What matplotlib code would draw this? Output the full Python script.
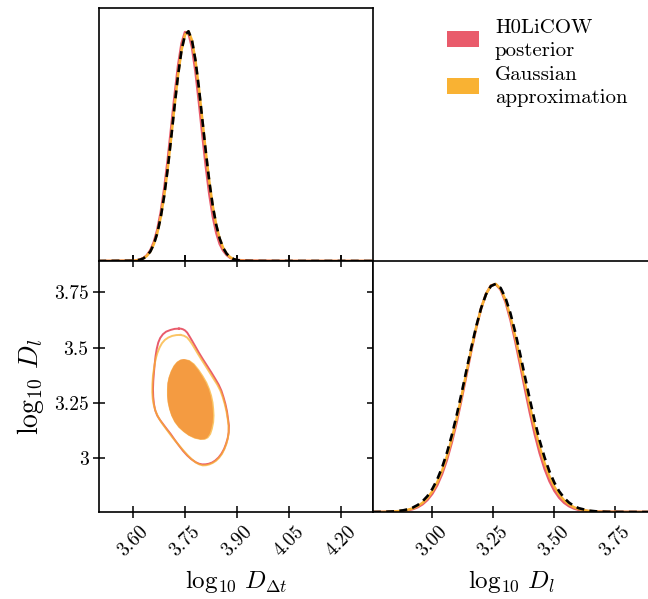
import matplotlib
matplotlib.use("Agg")
import matplotlib.pyplot as plt
from matplotlib.patches import Patch

plt.rcParams['font.family'] = 'serif'
plt.rcParams['font.serif'] = ['cmr10']
plt.rcParams['mathtext.fontset'] = 'cm'
plt.rcParams['axes.unicode_minus'] = False

# colours of the two chains
red = '#E95B6B'
yellow = '#F9B233'

# 1d marginal of log10 D_dt (heights scaled to peak = 1)
ddt_grid = [3.50, 3.60, 3.61, 3.62, 3.63, 3.64, 3.65, 3.66, 3.67, 3.68, 3.69, 3.70,
            3.71, 3.72, 3.73, 3.74, 3.75, 3.76, 3.77, 3.78, 3.79, 3.80, 3.81, 3.82,
            3.83, 3.84, 3.85, 3.86, 3.87, 3.88, 3.89, 3.90, 3.91, 3.92, 3.95, 4.00,
            4.05, 4.29]
ddt_posterior = [0.0, 0.0012, 0.0028, 0.0062, 0.0128, 0.0251, 0.0466, 0.0817, 0.1353,
                 0.2118, 0.3131, 0.4375, 0.5775, 0.7204, 0.8493, 0.9460, 0.9955, 0.9898,
                 0.9300, 0.8256, 0.6926, 0.5490, 0.4112, 0.2911, 0.1944, 0.1228, 0.0740,
                 0.0450, 0.0260, 0.0140, 0.0080, 0.0050, 0.0035, 0.0025, 0.0015, 0.0008,
                 0.0003, 0.0]
ddt_gauss = [0.0, 0.0011, 0.0025, 0.0055, 0.0113, 0.0222, 0.0413, 0.0726, 0.1208,
             0.1901, 0.2835, 0.4000, 0.5344, 0.6758, 0.8090, 0.9168, 0.9834, 0.9987,
             0.9600, 0.8736, 0.7527, 0.6138, 0.4739, 0.3461, 0.2394, 0.1568, 0.0972,
             0.0570, 0.0317, 0.0167, 0.0083, 0.0039, 0.0017, 0.0007, 0.0002, 0.0,
             0.0, 0.0]

# 1d marginal of log10 D_l
dl_grid = [2.757, 2.80, 2.84, 2.88, 2.90, 2.92, 2.94, 2.96, 2.98, 3.00, 3.02, 3.04,
           3.06, 3.08, 3.10, 3.12, 3.14, 3.16, 3.18, 3.20, 3.22, 3.24, 3.26, 3.28,
           3.30, 3.32, 3.34, 3.36, 3.38, 3.40, 3.42, 3.44, 3.46, 3.48, 3.50, 3.52,
           3.54, 3.56, 3.58, 3.60, 3.64, 3.68, 3.72, 3.80, 3.892]
dl_posterior = [0.0, 0.0003, 0.0012, 0.0042, 0.0074, 0.0127, 0.0210, 0.0339, 0.0529,
                0.0800, 0.1172, 0.1664, 0.2290, 0.3057, 0.3950, 0.4950, 0.6011, 0.7075,
                0.8071, 0.8921, 0.9557, 0.9923, 0.9986, 0.9738, 0.9205, 0.8432, 0.7486,
                0.6440, 0.5371, 0.4340, 0.3399, 0.2580, 0.1898, 0.1353, 0.0935, 0.0626,
                0.0406, 0.0256, 0.0156, 0.0092, 0.0035, 0.0020, 0.0012, 0.0005, 0.0001]
dl_gauss_kde = [0.0, 0.0005, 0.0018, 0.0057, 0.0097, 0.0160, 0.0258, 0.0404, 0.0613,
                0.0905, 0.1297, 0.1807, 0.2444, 0.3213, 0.4100, 0.5080, 0.6114, 0.7145,
                0.8105, 0.8927, 0.9547, 0.9912, 0.9992, 0.9778, 0.9292, 0.8573, 0.7680,
                0.6680, 0.5643, 0.4628, 0.3687, 0.2853, 0.2145, 0.1566, 0.1111, 0.0766,
                0.0513, 0.0335, 0.0212, 0.0130, 0.0048, 0.0015, 0.0006, 0.0001, 0.0]
dl_gauss = [0.0001, 0.0007, 0.0024, 0.0072, 0.0120, 0.0194, 0.0305, 0.0468, 0.0697,
            0.1010, 0.1422, 0.1950, 0.2598, 0.3369, 0.4249, 0.5210, 0.6217, 0.7214,
            0.8139, 0.8933, 0.9536, 0.9901, 0.9997, 0.9818, 0.9378, 0.8713, 0.7873,
            0.6919, 0.5914, 0.4916, 0.3975, 0.3126, 0.2391, 0.1778, 0.1287, 0.0905,
            0.0620, 0.0413, 0.0267, 0.0168, 0.0061, 0.0020, 0.0006, 0.0, 0.0]

# 2d contours (log10 D_dt, log10 D_l)
post_inner_x = [3.747, 3.737, 3.727, 3.718, 3.710, 3.7035, 3.700, 3.699, 3.699, 3.7007,
                3.705, 3.711, 3.720, 3.732, 3.746, 3.761, 3.778, 3.7945, 3.806, 3.814,
                3.821, 3.826, 3.830, 3.831, 3.830, 3.828, 3.824, 3.8185, 3.810, 3.799,
                3.788, 3.775, 3.762]
post_inner_y = [3.448, 3.445, 3.435, 3.418, 3.394, 3.366, 3.340, 3.313, 3.283, 3.253,
                3.222, 3.193, 3.165, 3.140, 3.120, 3.103, 3.091, 3.085, 3.086, 3.093,
                3.110, 3.133, 3.163, 3.193, 3.223, 3.253, 3.283, 3.313, 3.343, 3.373,
                3.400, 3.426, 3.442]
gauss_inner_x = [3.747, 3.736, 3.726, 3.717, 3.709, 3.7025, 3.699, 3.698, 3.698, 3.6997,
                 3.704, 3.710, 3.719, 3.731, 3.745, 3.760, 3.777, 3.7945, 3.808, 3.817,
                 3.825, 3.830, 3.834, 3.835, 3.834, 3.832, 3.828, 3.822, 3.814, 3.803,
                 3.791, 3.777, 3.763]
gauss_inner_y = [3.449, 3.446, 3.436, 3.419, 3.395, 3.366, 3.340, 3.313, 3.283, 3.253,
                 3.222, 3.193, 3.164, 3.139, 3.119, 3.102, 3.089, 3.083, 3.084, 3.091,
                 3.108, 3.132, 3.163, 3.193, 3.223, 3.253, 3.283, 3.313, 3.343, 3.373,
                 3.401, 3.428, 3.444]
post_outer_x = [3.7323, 3.7200, 3.7083, 3.6955, 3.6863, 3.6785, 3.6729, 3.6685, 3.6652,
                3.6625, 3.6604, 3.6585, 3.6576, 3.6583, 3.6604, 3.6640, 3.6700, 3.6775,
                3.6863, 3.6970, 3.7083, 3.7200, 3.7323, 3.7440, 3.7562, 3.7680, 3.7802,
                3.7900, 3.7993, 3.8090, 3.8185, 3.8285, 3.8376, 3.8470, 3.8549, 3.8626,
                3.8683, 3.8730, 3.8760, 3.8765, 3.8740, 3.8710, 3.8664, 3.8610, 3.8549,
                3.8470, 3.8376, 3.8260, 3.8137, 3.8015, 3.7897, 3.7800, 3.7706, 3.7630,
                3.7562, 3.7500, 3.7438, 3.7380, 3.7323]
post_outer_y = [3.5864, 3.5850, 3.5803, 3.5725, 3.5608, 3.5440, 3.5233, 3.4950, 3.4632,
                3.4250, 3.3881, 3.3500, 3.3131, 3.2780, 3.2455, 3.2170, 3.1930, 3.1740,
                3.1554, 3.1330, 3.1104, 3.0840, 3.0578, 3.0340, 3.0128, 2.9960, 2.9827,
                2.9755, 2.9722, 2.9725, 2.9752, 2.9810, 2.9903, 3.0040, 3.0203, 3.0420,
                3.0653, 3.0900, 3.1179, 3.1480, 3.1780, 3.2120, 3.2455, 3.2760, 3.3056,
                3.3330, 3.3581, 3.3880, 3.4182, 3.4480, 3.4782, 3.5050, 3.5308, 3.5510,
                3.5683, 3.5780, 3.5834, 3.5860, 3.5864]
gauss_outer_x = [3.7371, 3.7250, 3.7131, 3.7020, 3.6920, 3.6835, 3.6767, 3.6703, 3.6652,
                 3.6610, 3.6576, 3.6560, 3.6556, 3.6570, 3.6604, 3.6658, 3.6729, 3.6820,
                 3.6920, 3.7025, 3.7131, 3.7250, 3.7371, 3.7490, 3.7610, 3.7715, 3.7821,
                 3.7915, 3.8012, 3.8110, 3.8204, 3.8300, 3.8396, 3.8487, 3.8568, 3.8636,
                 3.8693, 3.8735, 3.8760, 3.8755, 3.8731, 3.8695, 3.8645, 3.8588, 3.8520,
                 3.8430, 3.8329, 3.8210, 3.8089, 3.7980, 3.7878, 3.7790, 3.7706, 3.7635,
                 3.7562, 3.7470, 3.7371]
gauss_outer_y = [3.5578, 3.5570, 3.5533, 3.5460, 3.5353, 3.5200, 3.5008, 3.4760, 3.4482,
                 3.4110, 3.3731, 3.3350, 3.2981, 3.2670, 3.2380, 3.2100, 3.1855, 3.1620,
                 3.1404, 3.1180, 3.0954, 3.0725, 3.0503, 3.0285, 3.0082, 2.9925, 2.9797,
                 2.9720, 2.9677, 2.9685, 2.9722, 2.9790, 2.9888, 3.0030, 3.0203, 3.0420,
                 3.0653, 3.0910, 3.1179, 3.1480, 3.1780, 3.2120, 3.2455, 3.2760, 3.3056,
                 3.3330, 3.3581, 3.3880, 3.4182, 3.4450, 3.4707, 3.4940, 3.5158, 3.5320,
                 3.5458, 3.5540, 3.5578]

ddt_ticks = [3.60, 3.75, 3.90, 4.05, 4.20]
ddt_ticklabels = ['3.60', '3.75', '3.90', '4.05', '4.20']
dl_ticks = [3.00, 3.25, 3.50, 3.75]
dl_ticklabels_y = ['3', '3.25', '3.5', '3.75']
dl_ticklabels_x = ['3.00', '3.25', '3.50', '3.75']

ddt_lim = (3.502, 4.292)
dl_lim = (2.757, 3.892)

W, H = 648.0, 599.0
fig = plt.figure(figsize=(6.48, 5.99), dpi=100)
ax_top = fig.add_axes([99 / W, 1 - 261 / H, 274 / W, 253 / H])
ax_2d = fig.add_axes([99 / W, 1 - 512 / H, 274 / W, 251 / H])
ax_dl = fig.add_axes([373 / W, 1 - 512 / H, 277 / W, 251 / H])

for ax in (ax_top, ax_2d, ax_dl):
    for s in ax.spines.values():
        s.set_linewidth(1.2)
    ax.tick_params(direction='inout', length=8, width=1.1, labelsize=14)

# top left: D_dt marginal
ax_top.plot(ddt_grid, ddt_posterior, color=red, lw=1.8)
ax_top.plot(ddt_grid, ddt_gauss, color=yellow, lw=1.8)
ax_top.plot(ddt_grid, ddt_gauss, color='black', lw=1.9, ls=(0, (3, 2)))
ax_top.set_xlim(ddt_lim)
ax_top.set_ylim(0, 1.1)
ax_top.set_xticks(ddt_ticks)
ax_top.set_yticks([])
ax_top.tick_params(labelbottom=False, left=False)

# bottom left: 2d contours
ax_2d.fill(post_inner_x, post_inner_y, color=red, lw=0)
ax_2d.fill(gauss_inner_x, gauss_inner_y, color=yellow, alpha=0.75, lw=0)
ax_2d.plot(post_outer_x, post_outer_y, color=red, lw=1.4)
ax_2d.plot(gauss_outer_x, gauss_outer_y, color=yellow, alpha=0.75, lw=1.4)
ax_2d.set_xlim(ddt_lim)
ax_2d.set_ylim(dl_lim)
ax_2d.set_xticks(ddt_ticks)
ax_2d.set_xticklabels(ddt_ticklabels, rotation=45)
ax_2d.set_yticks(dl_ticks)
ax_2d.set_yticklabels(dl_ticklabels_y)
ax_2d.tick_params(top=True, right=True)
ax_2d.set_xlabel(r'$\log_{10}\,D_{\Delta t}$', fontsize=18, labelpad=6)
ax_2d.set_ylabel(r'$\log_{10}\,D_{l}$', fontsize=20, labelpad=6)

# bottom right: D_l marginal
ax_dl.plot(dl_grid, dl_posterior, color=red, lw=1.8)
ax_dl.plot(dl_grid, dl_gauss_kde, color=yellow, lw=1.8)
ax_dl.plot(dl_grid, dl_gauss, color='black', lw=1.9, ls=(0, (3, 2)))
ax_dl.set_xlim(dl_lim)
ax_dl.set_ylim(0, 1.1)
ax_dl.set_xticks(dl_ticks)
ax_dl.set_xticklabels(dl_ticklabels_x, rotation=45)
ax_dl.set_yticks([])
ax_dl.set_xlabel(r'$\log_{10}\,D_{l}$', fontsize=18, labelpad=6)

handles = [Patch(facecolor=red, edgecolor='none'), Patch(facecolor=yellow, edgecolor='none')]
leg = fig.legend(handles, ['H0LiCOW\nposterior', 'Gaussian\napproximation'],
                 loc='upper left', bbox_to_anchor=(447 / W, 1 - 19 / H), frameon=False,
                 fontsize=15, borderpad=0, borderaxespad=0, handlelength=1.55,
                 handleheight=0.8, handletextpad=0.75, labelspacing=0.3)
for t in leg.get_texts():
    t.set_linespacing(1.35)

fig.savefig('out.png', dpi=100)
